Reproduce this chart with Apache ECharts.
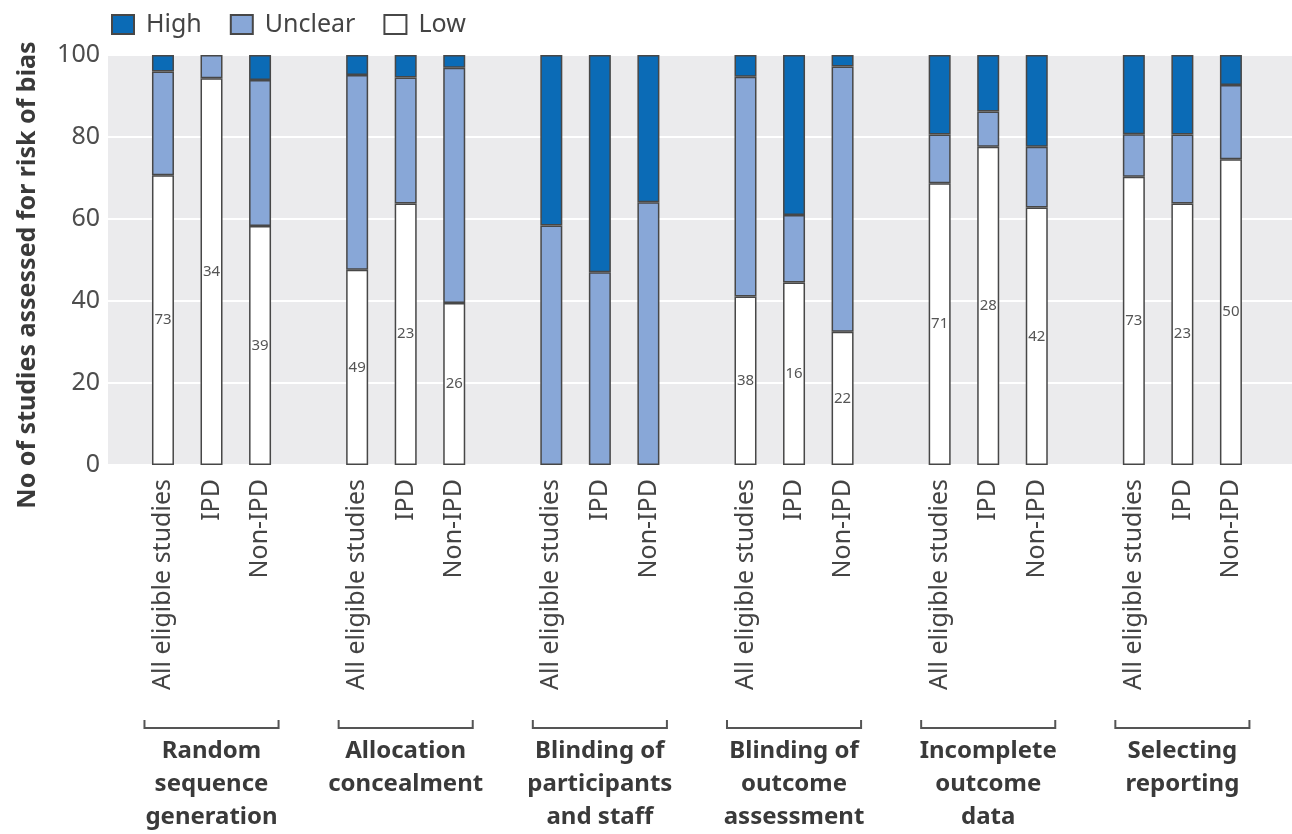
<!DOCTYPE html>
<html>
<head>
<meta charset="utf-8">
<script src="https://cdn.jsdelivr.net/npm/echarts@6/dist/echarts.min.js"></script>
<style>
  html, body { margin: 0; padding: 0; background: #fff; }
  #chart { width: 1292px; height: 834px; }
</style>
</head>
<body>
<div id="chart"></div>
<script>
// bars per domain, '' = spacer slot between domains
var categories = [
    'All eligible studies', 'IPD', 'Non-IPD', '',
    'All eligible studies', 'IPD', 'Non-IPD', '',
    'All eligible studies', 'IPD', 'Non-IPD', '',
    'All eligible studies', 'IPD', 'Non-IPD', '',
    'All eligible studies', 'IPD', 'Non-IPD', '',
    'All eligible studies', 'IPD', 'Non-IPD'
];
var groupNames = [
    'Random\nsequence\ngeneration',
    'Allocation\nconcealment',
    'Blinding of\nparticipants\nand staff',
    'Blinding of\noutcome\nassessment',
    'Incomplete\noutcome\ndata',
    'Selecting\nreporting'
];
// percentages
var lowValues =     [70.7, 94.3, 58.3, '-', 47.6, 63.8, 39.5, '-', 0, 0, 0, '-', 41.1, 44.5, 32.5, '-', 68.7, 77.6, 62.8, '-', 70.3, 63.8, 74.6];
var unclearValues = [25.3, 5.7, 35.6, '-', 47.5, 30.7, 57.4, '-', 58.4, 47.0, 64.1, '-', 53.6, 16.5, 64.7, '-', 11.9, 8.6, 14.8, '-', 10.4, 16.8, 18.1];
var highValues =    [4.0, 0, 6.1, '-', 4.9, 5.5, 3.1, '-', 41.6, 53.0, 35.9, '-', 5.3, 39.0, 2.8, '-', 19.4, 13.8, 22.4, '-', 19.3, 19.4, 7.3];
// counts printed in the low segment
var lowCounts =     [73, 34, 39, '', 49, 23, 26, '', '', '', '', '', 38, 16, 22, '', 71, 28, 42, '', 73, 23, 50];
var yTicks = [0, 20, 40, 60, 80, 100];

var chartDom = document.getElementById('chart');
var myChart = echarts.init(chartDom);

var font = '"Noto Sans", "Open Sans", sans-serif';
var border = { borderColor: '#474747', borderWidth: 1.5 };

// zero-height segments would still draw a border line, so skip them
function noZero(arr) {
    return arr.map(function (v) { return v === 0 ? '-' : v; });
}

var option = {
    animation: false,
    textStyle: { fontFamily: font },
    legend: {
        data: ['High', 'Unclear', 'Low'],
        left: 106,
        top: 7,
        icon: 'rect',
        itemWidth: 22,
        itemHeight: 19,
        itemGap: 28,
        textStyle: { fontSize: 25, color: '#444', fontFamily: font, padding: [0, 0, 0, 7] }
    },
    grid: [
        { left: 108, right: 0, top: 55, bottom: 369, show: true, backgroundColor: '#ebebed', borderWidth: 0 },
        { left: 138.7, width: 1116.5, top: 55, bottom: 369 }
    ],
    xAxis: [
        { gridIndex: 0, type: 'category', data: [''], show: false },
        {
            gridIndex: 1,
            type: 'category',
            data: categories,
            axisLine: { show: false },
            axisTick: { show: false },
            axisLabel: {
                interval: 0,
                rotate: 90,
                margin: 14,
                fontSize: 25,
                color: '#444',
                fontFamily: font
            }
        }
    ],
    yAxis: [
        {
            gridIndex: 0,
            type: 'value',
            min: 0,
            max: yTicks[yTicks.length - 1],
            interval: 20,
            name: 'No of studies assessed for risk of bias',
            nameLocation: 'middle',
            nameGap: 68,
            nameTextStyle: {
                fontSize: 25,
                fontWeight: 'bold',
                color: '#3a3a3a',
                fontFamily: font,
                padding: [0, 30, 0, 0]
            },
            axisLine: { show: false },
            axisTick: { show: false },
            axisLabel: { fontSize: 25, color: '#4d4d4d', margin: 8, fontFamily: font },
            splitLine: { lineStyle: { color: '#ffffff', width: 2 } }
        },
        { gridIndex: 1, type: 'value', min: 0, max: 100, show: false, splitLine: { show: false } }
    ],
    series: [
        {
            name: 'Low',
            type: 'bar',
            stack: 'risk',
            xAxisIndex: 1,
            yAxisIndex: 1,
            barWidth: 22,
            data: noZero(lowValues),
            itemStyle: Object.assign({ color: '#ffffff' }, border),
            label: {
                show: true,
                position: 'inside',
                fontSize: 15,
                color: '#555',
                fontFamily: font,
                formatter: function (p) { return lowCounts[p.dataIndex]; }
            }
        },
        {
            name: 'Unclear',
            type: 'bar',
            stack: 'risk',
            xAxisIndex: 1,
            yAxisIndex: 1,
            barWidth: 22,
            data: noZero(unclearValues),
            itemStyle: Object.assign({ color: '#88a7d7' }, border)
        },
        {
            name: 'High',
            type: 'bar',
            stack: 'risk',
            xAxisIndex: 1,
            yAxisIndex: 1,
            barWidth: 22,
            data: noZero(highValues),
            itemStyle: Object.assign({ color: '#0b6bb6' }, border)
        }
    ]
};

myChart.setOption(option);

// brackets and domain names under each group of three bars
var graphics = [];
var bracketY = 728;
groupNames.forEach(function (name, g) {
    var first = myChart.convertToPixel({ xAxisIndex: 1 }, g * 4);
    var last = myChart.convertToPixel({ xAxisIndex: 1 }, g * 4 + 2);
    var x1 = first - 18.5;
    var x2 = last + 18.5;
    graphics.push({
        type: 'polyline',
        shape: { points: [[x1, bracketY - 8], [x1, bracketY], [x2, bracketY], [x2, bracketY - 8]] },
        style: { stroke: '#555', lineWidth: 2, fill: null }
    });
    graphics.push({
        type: 'text',
        x: (x1 + x2) / 2,
        y: 735,
        style: {
            text: name,
            align: 'center',
            verticalAlign: 'top',
            fontSize: 24,
            fontWeight: 'bold',
            lineHeight: 33,
            fill: '#3a3a3a',
            fontFamily: font
        }
    });
});
myChart.setOption({ graphic: graphics });
</script>
</body>
</html>
